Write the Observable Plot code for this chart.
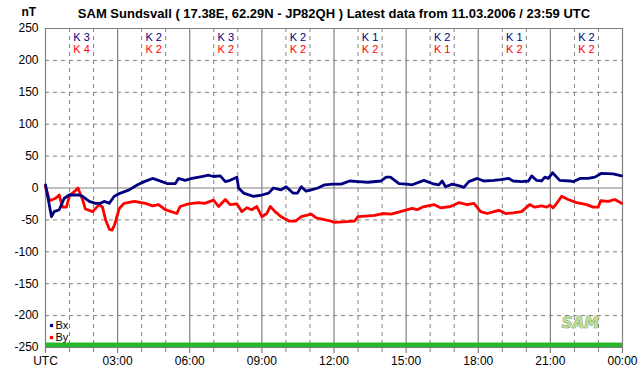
<!DOCTYPE html>
<html>
<head>
<meta charset="utf-8">
<script src="https://cdn.jsdelivr.net/npm/d3@7"></script>
<script src="https://cdn.jsdelivr.net/npm/@observablehq/plot@0.6"></script>
<style>
  html, body { margin: 0; padding: 0; background: #ffffff; }
  #chart { width: 642px; height: 376px; }
</style>
</head>
<body>
<div id="chart"></div>
<script>
// ---- Data ----
const titleText = "SAM Sundsvall ( 17.38E, 62.29N - JP82QH ) Latest data from 11.03.2006 / 23:59 UTC";
const unitLabel = "nT";

// Bx (hours UTC, nT)
const bxHours = [0.00,0.25,0.36,0.57,0.78,0.99,1.40,1.54,1.82,2.08,2.29,2.44,2.65,2.86,3.12,3.48,3.83,4.11,4.45,4.70,5.05,5.40,5.53,5.81,6.09,6.50,6.78,6.99,7.27,7.48,7.68,7.96,8.03,8.24,8.65,9.00,9.28,9.48,9.80,10.01,10.29,10.48,10.64,10.84,11.05,11.33,11.61,11.95,12.30,12.65,13.00,13.41,13.96,14.17,14.35,14.70,15.02,15.25,15.74,16.09,16.36,16.50,16.64,16.92,17.26,17.40,17.61,17.96,18.23,18.65,18.93,19.27,19.45,19.80,20.09,20.22,20.42,20.63,20.77,20.92,21.09,21.39,21.81,21.95,22.23,22.57,22.85,23.13,23.61,23.96];
const bxValues = [5,-45,-37,-34,-16,-11,-11,-13,-21,-24,-24,-21,-24,-13,-8,-3,5,10,15,12,7,7,15,12,15,18,20,18,19,10,12,17,0,-8,-13,-11,-8,0,-3,2,-8,-8,2,-5,-3,0,5,6,6,11,10,9,11,17,17,7,6,5,12,7,5,11,2,6,3,1,10,15,11,12,13,15,11,10,11,19,12,11,17,15,24,12,11,10,15,15,17,23,22,19];

// By (hours UTC, nT)
const byHours = [0.00,0.08,0.17,0.42,0.57,0.71,0.87,1.00,1.25,1.35,1.54,1.66,1.96,2.23,2.37,2.50,2.66,2.77,2.87,3.07,3.27,3.69,4.16,4.45,4.70,4.98,5.46,5.60,5.95,6.37,6.62,6.99,7.20,7.48,7.68,7.96,8.17,8.37,8.58,8.79,9.00,9.20,9.35,9.55,9.80,10.15,10.40,10.64,11.05,11.26,11.88,12.02,12.85,13.00,13.30,13.69,14.03,14.38,14.76,15.25,15.46,15.67,16.15,16.43,16.85,17.19,17.54,17.82,18.10,18.37,18.65,18.86,19.14,19.45,19.80,20.14,20.35,20.63,20.84,20.98,21.12,21.26,21.47,21.74,22.09,22.51,22.78,22.99,23.09,23.41,23.68,23.96];
const byValues = [2,-8,-20,-16,-11,-30,-30,-12,-4,0,-18,-33,-37,-26,-30,-50,-65,-66,-58,-32,-24,-21,-24,-28,-26,-34,-40,-29,-25,-23,-24,-19,-29,-18,-26,-25,-37,-31,-34,-29,-45,-40,-29,-37,-45,-52,-52,-45,-41,-47,-52,-54,-52,-45,-44,-43,-40,-41,-37,-32,-34,-30,-26,-31,-29,-23,-26,-24,-37,-40,-37,-35,-40,-39,-37,-26,-30,-28,-30,-27,-31,-24,-13,-18,-23,-26,-30,-30,-20,-21,-18,-24];

// K indices per 3-hour block
const kBlockStarts = [0,3,6,9,12,15,18,21];
const kBx = [3,2,3,2,1,2,1,2];
const kBy = [4,2,2,2,2,1,2,2];

// Axis ticks
const yTicks = [-250,-200,-150,-100,-50,0,50,100,150,200,250];
const xTicks = [0,3,6,9,12,15,18,21,24];
const xTickLabels = ["UTC","03:00","06:00","09:00","12:00","15:00","18:00","21:00","00:00"];
const hourGrid = d3.range(1, 24).filter(h => h % 3 !== 0);
const majorGrid = [0,3,6,9,12,15,18,21,24];
const dataCoverage = [{start: 0, end: 24}];

const seriesNames = ["Bx", "By"];
const seriesColors = ["#000080", "#ff0000"];

// ---- Build tables ----
const bx = bxHours.map((h, i) => ({h, v: bxValues[i]}));
const by = byHours.map((h, i) => ({h, v: byValues[i]}));
const kData = kBlockStarts.map((s, i) => ({mid: s + 1.5, kx: kBx[i], ky: kBy[i]}));
const yMin = yTicks[0], yMax = yTicks[yTicks.length - 1];
const grey = "#808080";
const dash = "4,4";

const chart = Plot.plot({
  width: 642,
  height: 376,
  marginLeft: 45,
  marginRight: 20,
  marginTop: 28,
  marginBottom: 29,
  x: {domain: [0, 24], axis: null},
  y: {domain: [yMin, yMax], axis: null},
  style: {fontFamily: "'Liberation Sans', Arial, sans-serif", fontSize: "12px", background: "#ffffff", overflow: "visible"},
  marks: [
    // dashed grid
    Plot.ruleX(hourGrid, {x: d => d, stroke: grey, strokeDasharray: dash, strokeWidth: 1, insetBottom: -6}),
    Plot.ruleY(yTicks.filter(t => t !== 0 && t !== yMin && t !== yMax), {y: d => d, stroke: grey, strokeDasharray: dash, strokeWidth: 1}),
    // solid grid
    Plot.ruleX(majorGrid, {x: d => d, stroke: grey, strokeWidth: 1.2, insetBottom: -6}),
    Plot.ruleY([0, yMin, yMax], {y: d => d, stroke: grey, strokeWidth: 1.2}),
    // data coverage bar
    Plot.rect(dataCoverage, {x1: "start", x2: "end", y1: yMin, y2: yMin + 7, fill: "#26b826"}),
    // series
    Plot.line(by, {x: "h", y: "v", stroke: seriesColors[1], strokeWidth: 2.8, curve: "linear"}),
    Plot.line(bx, {x: "h", y: "v", stroke: seriesColors[0], strokeWidth: 2.8, curve: "linear"}),
    // K index labels
    Plot.text(kData, {x: "mid", y: yMax, dy: 9, text: d => "K " + d.kx, fill: seriesColors[0], fontSize: 11, lineAnchor: "middle"}),
    Plot.text(kData, {x: "mid", y: yMax, dy: 21, text: d => "K " + d.ky, fill: seriesColors[1], fontSize: 11, lineAnchor: "middle"}),
    // y tick labels
    Plot.text(yTicks, {x: 0, y: d => d, text: d => String(d), textAnchor: "end", dx: -7, fill: "#000", fontSize: 12, lineAnchor: "middle"}),
    // x tick labels
    Plot.text(xTicks, {x: d => d, y: yMin, dy: 14, text: (d, i) => xTickLabels[i],
      textAnchor: (d, i) => i === 0 ? "start" : "middle", lineAnchor: "middle",
      fontWeight: (d, i) => i === 0 ? "bold" : "normal", fill: "#000", fontSize: 12}),
    // legend
    Plot.dot([seriesNames[0]], {frameAnchor: "bottom-left", dx: 6, dy: -22, symbol: "square", r: 1.8, fill: seriesColors[0], stroke: null}),
    Plot.text([seriesNames[0]], {frameAnchor: "bottom-left", dx: 10, dy: -22, textAnchor: "start", lineAnchor: "middle", fill: "#000", fontSize: 11}),
    Plot.dot([seriesNames[1]], {frameAnchor: "bottom-left", dx: 6, dy: -10, symbol: "square", r: 1.8, fill: seriesColors[1], stroke: null}),
    Plot.text([seriesNames[1]], {frameAnchor: "bottom-left", dx: 10, dy: -10, textAnchor: "start", lineAnchor: "middle", fill: "#000", fontSize: 11}),
    // logo
    Plot.text(["SAM"], {frameAnchor: "bottom-right", dx: -42, dy: -24, fontSize: 15, fontWeight: "bold", fontStyle: "italic", lineAnchor: "middle",
      textAnchor: "middle", fill: "#b8e090", stroke: "#6a6a6a", strokeWidth: 0.7, fontFamily: "'DejaVu Sans', sans-serif"}),
    // title & unit
    Plot.text([titleText], {frameAnchor: "top", dy: -15, lineAnchor: "middle", fontWeight: "bold", fontSize: 13, fill: "#000"}),
    Plot.text([unitLabel], {frameAnchor: "top-left", dx: -24, dy: -16, lineAnchor: "middle", fontWeight: "bold", fontSize: 12, fill: "#000"})
  ]
});
document.getElementById("chart").appendChild(chart);
</script>
</body>
</html>
